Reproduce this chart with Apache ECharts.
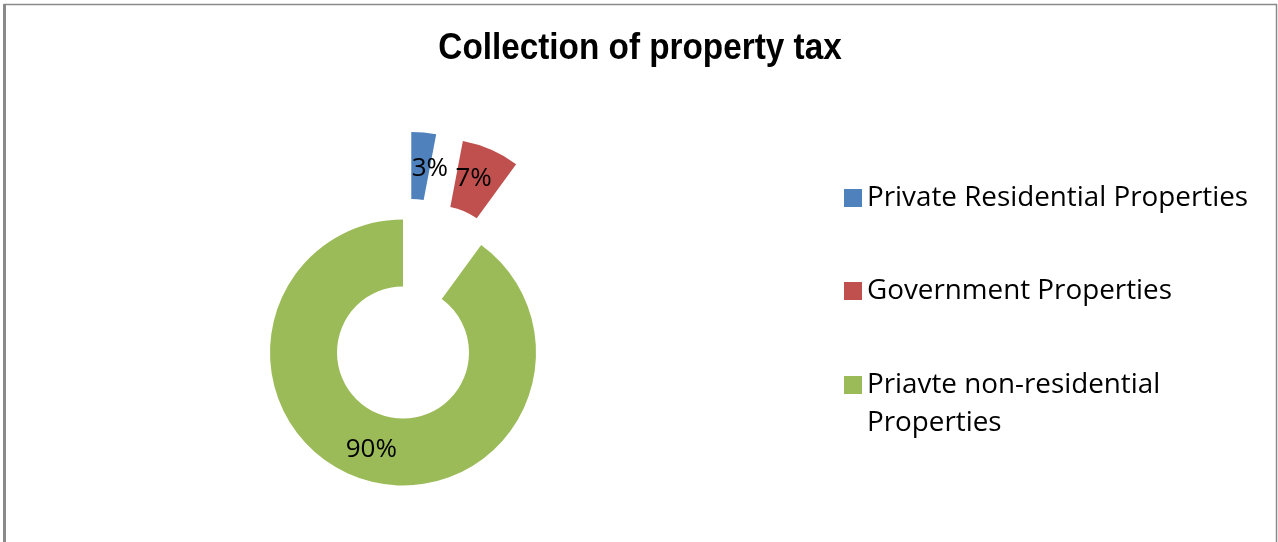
<!DOCTYPE html>
<html>
<head>
<meta charset="utf-8">
<title>Collection of property tax</title>
<script src="https://cdn.jsdelivr.net/npm/echarts@6/dist/echarts.min.js"></script>
<style>
  html, body { margin: 0; padding: 0; background: #ffffff; }
  #chart { width: 1278px; height: 542px; }
</style>
</head>
<body>
<div id="chart"></div>
<script>
// Share of property tax collected, by property type (percent)
const categories = [
  'Private Residential Properties',
  'Government Properties',
  'Priavte non-residential Properties'
];
const shares = [3, 7, 90];
const colors = ['#4F81BD', '#C0504D', '#9BBB59'];
// slices pulled out of the ring
const exploded = [true, true, false];
// small nudges so the value labels sit where they read best
const labelNudge = [[9, 6], [-5, 1], [0, 0]];

const bodyFont = '"Open Sans", Lato, sans-serif';

const chart = echarts.init(document.getElementById('chart'), null, { renderer: 'canvas' });

const pieData = categories.map((name, i) => ({
  name: name,
  value: shares[i],
  selected: exploded[i],
  itemStyle: { color: colors[i] }
}));

const legendText = {
  fontFamily: bodyFont,
  fontSize: 27.8,
  lineHeight: 38,
  color: '#000000'
};

chart.setOption({
  animation: false,
  backgroundColor: '#ffffff',
  legend: [
    {
      data: categories.slice(0, 2),
      orient: 'vertical',
      left: 844,
      top: 179,
      padding: 0,
      itemWidth: 18,
      itemHeight: 18,
      itemGap: 55,
      icon: 'rect',
      selectedMode: false,
      textStyle: legendText
    },
    {
      // long name wraps onto a second line; the square stays beside the first line
      data: categories.slice(2),
      orient: 'vertical',
      left: 844,
      top: 328,
      padding: 0,
      itemWidth: 18,
      itemHeight: 18,
      icon: 'rect',
      selectedMode: false,
      formatter: function (name) {
        const cut = name.lastIndexOf(' ');
        return '{gap| }\n{t|' + name.slice(0, cut) + '}\n{t|' + name.slice(cut + 1) + '}';
      },
      textStyle: Object.assign({}, legendText, {
        rich: {
          gap: { fontSize: 27.8, lineHeight: 38, height: 38 },
          t: legendText
        }
      })
    }
  ],
  graphic: [
    {
      type: 'rect',
      silent: true,
      shape: { x: 4.5, y: 4.5, width: 1272, height: 600 },
      style: { fill: 'none', stroke: '#8a8a8a', lineWidth: 1.5 }
    },
    {
      type: 'line',
      silent: true,
      shape: { x1: 4.5, y1: 4, x2: 4.5, y2: 542 },
      style: { stroke: '#8a8a8a', lineWidth: 3 }
    },
    {
      // chart heading, set in a narrowed bold face
      type: 'text',
      silent: true,
      x: 640,
      y: 49,
      scaleX: 0.9,
      style: {
        text: 'Collection of property tax',
        fontFamily: '"Liberation Sans", Arial, sans-serif',
        fontWeight: 'bold',
        fontSize: 37,
        fill: '#000000',
        align: 'center',
        verticalAlign: 'middle'
      }
    }
  ],
  series: [
    {
      type: 'pie',
      center: [403, 352.5],
      radius: [66, 133],
      startAngle: 90,
      clockwise: true,
      selectedMode: 'multiple',
      selectedOffset: 88,
      avoidLabelOverlap: false,
      emphasis: { disabled: true },
      labelLayout: function (params) {
        const n = labelNudge[params.dataIndex];
        return { hideOverlap: false, dx: n[0], dy: n[1] };
      },
      label: {
        show: true,
        position: 'inside',
        formatter: function (p) { return p.value + '%'; },
        fontFamily: bodyFont,
        fontSize: 26,
        color: '#000000'
      },
      labelLine: { show: false },
      data: pieData
    }
  ]
});
</script>
</body>
</html>
